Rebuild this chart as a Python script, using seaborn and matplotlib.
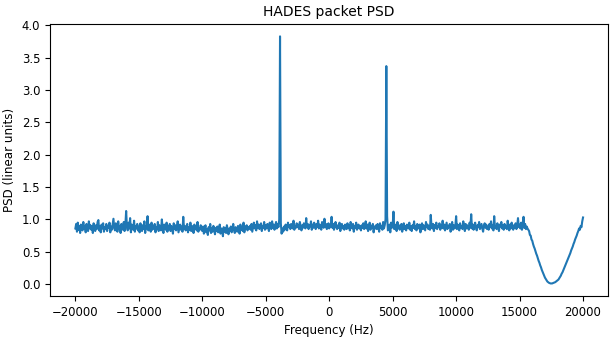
import numpy as np
import matplotlib
matplotlib.use("Agg")
import matplotlib.pyplot as plt
import seaborn as sns

# PSD values, 62.5 Hz bins from -20000 Hz
psd_band = [
    0.86, 0.93, 0.81, 0.95, 0.84, 0.90, 0.79, 0.92, 0.87, 0.83, 0.96, 0.85, 0.89, 0.80, 0.93, 0.88, 0.82, 0.97, 0.86, 0.91,
    0.84, 0.90, 0.79, 0.94, 0.87, 0.82, 0.91, 0.85, 0.96, 0.99, 0.83, 0.89, 0.80, 0.92, 0.86, 0.94, 0.81, 0.88, 0.85, 0.93,
    0.82, 0.90, 0.87, 0.95, 0.80, 0.89, 0.84, 0.92, 1.01, 0.86, 0.83, 0.94, 0.88, 0.81, 0.97, 0.85, 0.90, 0.79, 0.93, 0.87,
    0.84, 0.96, 0.82, 0.91, 1.13, 0.88, 0.83, 0.95, 0.86, 1.02, 0.80, 0.92, 0.87, 0.84, 0.98, 0.81, 0.90, 0.86, 0.93, 0.83,
    0.89, 0.80, 0.94, 0.87, 0.82, 0.91, 0.85, 0.97, 0.79, 0.90, 0.86, 1.05, 0.83, 0.92, 0.88, 0.81, 0.95, 0.84, 0.90, 0.86,
    0.93, 0.80, 0.88, 0.85, 0.96, 0.82, 0.91, 0.87, 0.83, 1.00, 0.86, 0.79, 0.92, 0.88, 0.84, 0.95, 0.81, 0.89, 0.86, 0.93,
    0.82, 0.90, 0.87, 0.78, 0.94, 0.85, 0.91, 0.83, 0.88, 0.97, 0.80, 0.86, 0.92, 0.84, 0.89, 0.81, 1.04, 0.85, 0.90, 0.83,
    0.87, 0.93, 0.80, 0.88, 0.84, 0.95, 0.82, 0.90, 0.86, 0.79, 0.92, 0.85, 0.89, 0.83, 0.96, 0.81, 0.87, 0.84, 0.91, 0.86,
    0.82, 0.89, 0.78, 0.86, 0.91, 0.80, 0.85, 0.76, 0.88, 0.83, 0.93, 0.79, 0.86, 0.81, 0.90, 0.84, 0.77, 0.87, 0.82, 0.89,
    0.80, 0.85, 0.92, 0.78, 0.86, 0.83, 0.74, 0.88, 0.81, 0.87, 0.79, 0.91, 0.84, 0.77, 0.86, 0.82, 0.89, 0.80, 0.85, 0.93,
    0.83, 0.79, 0.88, 0.85, 0.81, 0.90, 0.86, 0.78, 0.92, 0.84, 0.87, 0.82, 0.95, 0.80, 0.89, 0.85, 0.91, 0.83, 0.88, 0.86,
    0.90, 0.84, 0.93, 0.81, 0.88, 0.95, 0.86, 0.91, 0.83, 0.97, 0.87, 0.92, 0.85, 0.89, 0.94, 0.82, 0.90, 0.87, 0.96, 0.84,
    0.91, 0.86, 0.93, 0.88, 0.82, 0.95, 0.89, 0.85, 0.97, 0.87, 0.92, 0.84, 0.90, 0.96, 0.86, 0.93, 0.88, 1.00, 3.83, 0.94,
    0.78, 0.86, 0.81, 0.89, 0.84, 0.92, 0.87, 0.83, 0.95, 0.88, 0.91, 0.85, 0.93, 0.89, 0.86, 0.98, 0.84, 0.90, 0.87, 0.94,
    0.88, 0.92, 0.85, 0.96, 0.89, 0.83, 0.91, 0.87, 0.94, 0.90, 0.86, 1.02, 0.88, 0.93, 0.85, 0.91, 0.89, 0.97, 0.84, 0.92,
    0.87, 0.95, 0.90, 0.85, 0.93, 0.88, 0.98, 0.86, 0.92, 0.89, 0.84, 0.96, 0.91, 0.87, 1.01, 0.88, 0.93, 0.85, 0.90, 0.94,
    0.86, 0.92, 0.89, 1.04, 0.87, 0.93, 0.84, 0.90, 0.96, 0.88, 0.85, 0.91, 0.87, 0.95, 0.82, 0.89, 0.93, 0.86, 0.90, 0.84,
    0.92, 0.88, 0.85, 0.94, 0.87, 0.91, 0.83, 0.96, 0.89, 0.86, 0.93, 0.81, 0.90, 0.87, 0.95, 0.84, 0.88, 0.92, 0.86, 0.90,
    0.83, 0.91, 0.87, 0.94, 0.85, 0.89, 0.97, 0.86, 0.92, 0.82, 0.88, 0.95, 0.84, 0.90, 0.87, 0.93, 0.80, 0.89, 0.86, 0.91,
    0.85, 0.93, 0.88, 0.81, 0.94, 0.87, 0.90, 0.84, 0.96, 0.86, 0.91, 1.00, 3.37, 1.05, 0.83, 0.89, 0.92, 0.80, 0.95, 0.87,
    0.90, 1.12, 0.85, 0.92, 0.88, 0.82, 0.96, 0.86, 0.91, 0.84, 0.89, 0.93, 0.81, 0.87, 0.94, 0.85, 0.90, 0.83, 0.92, 0.88,
    0.86, 0.95, 0.84, 0.89, 0.82, 0.91, 0.87, 0.97, 0.85, 0.90, 0.83, 0.93, 0.88, 0.86, 0.92, 0.80, 0.89, 0.94, 0.85, 0.91,
    0.87, 0.83, 0.96, 0.88, 0.92, 0.85, 0.90, 0.84, 1.07, 0.89, 0.86, 0.93, 0.82, 0.91, 0.87, 0.95, 0.85, 0.90, 0.88, 0.94,
    0.84, 0.91, 0.87, 0.98, 0.86, 0.92, 0.83, 0.89, 0.95, 0.85, 0.90, 0.88, 0.93, 0.81, 0.87, 0.96, 0.84, 0.91, 0.86, 0.89,
    1.05, 0.85, 0.92, 0.88, 0.83, 0.94, 0.87, 0.90, 0.85, 0.97, 0.89, 0.82, 0.93, 0.86, 0.91, 0.88, 0.84, 0.95, 0.87, 1.08,
    0.86, 0.92, 0.84, 0.90, 0.95, 0.87, 0.83, 0.91, 0.88, 0.96, 0.85, 0.89, 0.93, 0.86, 0.81, 0.90, 0.94, 0.87, 0.92, 0.85,
    0.89, 0.84, 0.93, 0.88, 0.97, 0.86, 0.91, 0.83, 1.05, 0.87, 0.90, 0.85, 0.94, 0.88, 0.82, 0.92, 0.89, 0.96, 0.86, 0.91,
    0.84, 0.93, 0.87, 0.90, 0.85, 0.98, 0.88, 0.83, 0.92, 0.86, 0.95, 0.89, 0.84, 0.91, 0.87, 0.94, 0.85, 0.90, 1.02, 0.88,
    0.92, 0.86, 0.95, 0.84, 0.90, 1.04, 0.87, 0.93, 0.85, 0.89, 0.86,
]

# filter roll-off near the upper band edge
psd_rolloff = [
    0.84, 0.82, 0.76, 0.75, 0.69, 0.67, 0.62, 0.58, 0.55, 0.51,
    0.47, 0.44, 0.40, 0.36, 0.33, 0.29, 0.26, 0.22, 0.19, 0.16,
    0.13, 0.10, 0.08, 0.06, 0.04, 0.03, 0.02, 0.015, 0.01, 0.01,
    0.01, 0.015, 0.02, 0.025, 0.03, 0.04, 0.05, 0.06, 0.07, 0.09,
    0.11, 0.13, 0.16, 0.18, 0.21, 0.24, 0.27, 0.30, 0.33, 0.36,
    0.39, 0.42, 0.45, 0.48, 0.52, 0.55, 0.58, 0.62, 0.65, 0.69,
    0.72, 0.75, 0.79, 0.82, 0.86, 0.84, 0.90, 0.88, 0.97, 1.03,
]

psd = np.array(psd_band + psd_rolloff)
freqs = np.linspace(-20000, 20000, len(psd))

plt.rcParams["font.size"] = 8.6
plt.rcParams["xtick.labelsize"] = 8.4
plt.rcParams["ytick.labelsize"] = 8.4

fig = plt.figure(figsize=(6.15, 3.4), dpi=100)
ax = fig.add_axes([0.0813, 0.130, 0.908, 0.7994])
sns.lineplot(x=freqs, y=psd, ax=ax, color="#1f77b4", linewidth=1.5, estimator=None)
ax.set_title("HADES packet PSD", fontsize=10)
ax.set_xlabel("Frequency (Hz)")
ax.set_ylabel("PSD (linear units)")
ax.set_xticks([-20000, -15000, -10000, -5000, 0, 5000, 10000, 15000, 20000])
ax.set_yticks([0.0, 0.5, 1.0, 1.5, 2.0, 2.5, 3.0, 3.5, 4.0])

fig.savefig("out.png", dpi=100)
